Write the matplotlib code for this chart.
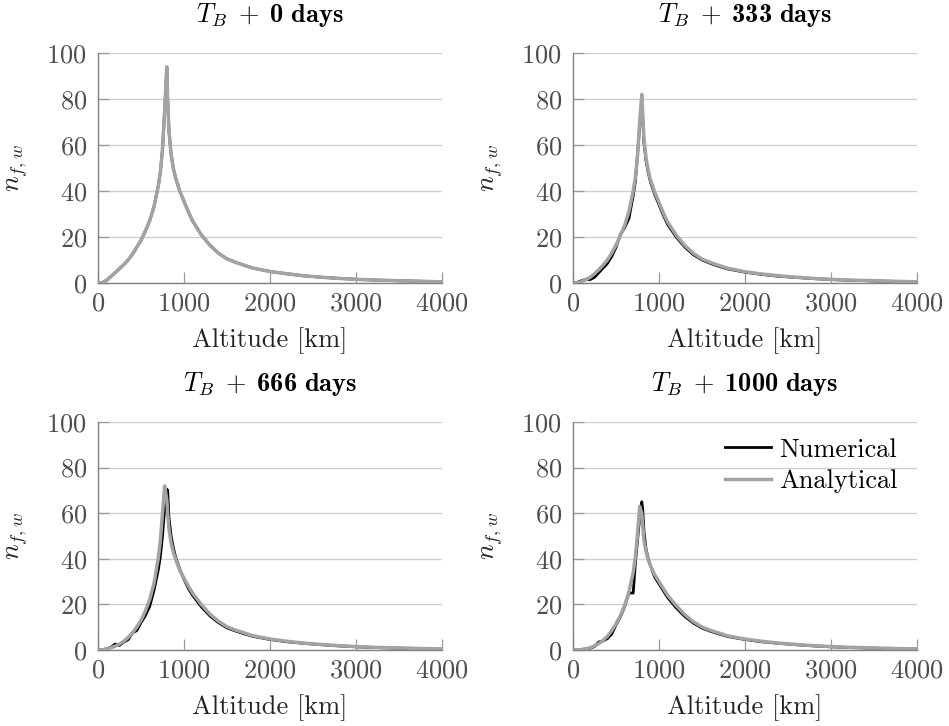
import matplotlib
matplotlib.use("Agg")
import matplotlib.pyplot as plt
import numpy as np

plt.rcParams['font.family'] = ['cmr10', 'DejaVu Serif']
plt.rcParams['mathtext.fontset'] = 'custom'
plt.rcParams['mathtext.rm'] = 'cmr10'
plt.rcParams['mathtext.it'] = 'cmmi10'
plt.rcParams['mathtext.bf'] = 'cmb10'
plt.rcParams['axes.formatter.use_mathtext'] = True
plt.rcParams['axes.unicode_minus'] = False

titles = [r"$T_B\;+\;\mathbf{0\ days}$", r"$T_B\;+\;\mathbf{333\ days}$",
          r"$T_B\;+\;\mathbf{666\ days}$", r"$T_B\;+\;\mathbf{1000\ days}$"]

alt = [0, 50, 100, 150, 200, 250, 300, 350, 400, 450, 500, 550, 600, 650, 700, 725, 750,
       775, 800, 810, 825, 850, 875, 900, 950, 1000, 1050, 1100, 1200, 1300, 1400, 1500,
       1600, 1700, 1800, 2000, 2200, 2400, 2600, 2800, 3000, 3200, 3400, 3600, 3800, 4000]

ana_0 = [0, 0.2, 1.2, 2.8, 4.5, 6.2, 8, 10, 12.5, 15.5, 18.5, 22.5, 27, 33, 42, 48, 58,
         75, 94, 80, 66, 56, 50, 46, 40, 35.5, 31, 27, 21, 16.5, 13, 10.5,
         9, 7.7, 6.5, 5, 4, 3.1, 2.5, 2, 1.6, 1.3, 1.1, 0.9, 0.7, 0.5]
num_0 = [0, 0.2, 1.2, 2.8, 4.5, 6.2, 8, 10, 12.5, 15.5, 18.5, 22.5, 27, 33, 42, 48, 58,
         75, 93.5, 80, 66, 56, 50, 46, 40, 35.5, 31, 27, 21, 16.5, 13, 10.5,
         9, 7.7, 6.5, 5, 4, 3.1, 2.5, 2, 1.6, 1.3, 1.1, 0.9, 0.7, 0.5]

ana_333 = [0, 0.1, 0.6, 1.5, 2.5, 4, 5.8, 7.8, 10, 13, 16.5, 20.5, 25, 31, 40, 46, 55,
           70, 82, 74, 63, 54, 49, 45, 39.5, 35, 30.5, 26.5, 20.8, 16.3, 12.9, 10.4,
           8.9, 7.6, 6.4, 4.9, 3.9, 3.1, 2.5, 2, 1.6, 1.3, 1.1, 0.9, 0.7, 0.5]
num_333 = [0, 0.3, 1.0, 1.6, 1.5, 2.5, 4.5, 6.5, 8.5, 11.5, 15.5, 21, 24, 28, 38, 44, 56,
           68, 78, 72, 61, 53, 48, 44, 38.5, 34, 29.5, 25.5, 20, 15.6, 12.3, 10,
           8.5, 7.2, 6.1, 4.7, 3.7, 2.9, 2.4, 1.9, 1.5, 1.2, 1.0, 0.8, 0.6, 0.4]

ana_666 = [0, 0.1, 0.4, 1.0, 1.7, 2.6, 3.8, 5.5, 7.5, 10, 13, 17, 22, 29, 40, 48, 60,
           72, 66, 60, 53, 47, 43, 40, 35, 31.5, 28, 25, 20, 15.8, 12.6, 10.2,
           8.7, 7.5, 6.3, 4.8, 3.8, 3.0, 2.4, 1.9, 1.5, 1.2, 1.0, 0.8, 0.6, 0.5]
num_666 = [0, 0.1, 0.5, 1.2, 2.6, 2.0, 3.5, 4.5, 7.5, 8.5, 12, 15, 19, 26, 35, 41, 50,
           62, 70.5, 70, 58, 50, 45, 41, 35.5, 31, 27, 24, 19, 15, 12, 9.7,
           8.3, 7.1, 6.0, 4.6, 3.6, 2.9, 2.3, 1.8, 1.4, 1.1, 0.9, 0.7, 0.5, 0.4]

ana_1000 = [0, 0.05, 0.2, 0.5, 1.0, 1.8, 2.8, 4.2, 6, 8.5, 11.5, 15, 19.5, 25.5, 34, 41, 51,
            63, 60, 55, 48, 43, 39.5, 37, 33, 30, 27, 24, 19.5, 15.5, 12.4, 10.1,
            8.6, 7.4, 6.2, 4.8, 3.8, 3.0, 2.4, 1.9, 1.5, 1.2, 1.0, 0.8, 0.6, 0.5]
num_1000 = [0, 0.05, 0.2, 0.5, 0.8, 1.5, 3.5, 4.0, 5.0, 7.0, 11, 14.5, 19, 25, 25, 38, 48,
            58, 65, 62, 52, 44, 40, 37, 32, 29, 26, 23, 18.5, 14.7, 11.8, 9.6,
            8.2, 7.0, 5.9, 4.6, 3.6, 2.9, 2.3, 1.8, 1.4, 1.1, 0.9, 0.7, 0.5, 0.4]

numerical = [num_0, num_333, num_666, num_1000]
analytical = [ana_0, ana_333, ana_666, ana_1000]

xticks = [0, 1000, 2000, 3000, 4000]
yticks = [0, 20, 40, 60, 80, 100]

W, H = 949, 726
fig = plt.figure(figsize=(W / 100, H / 100), dpi=100)

boxes = [(98, 442, 53, 283), (573, 917, 53, 283), (98, 442, 422, 650), (573, 917, 422, 650)]

FS = 19
tick_col = '#4d4d4d'
for i, (l, r, t, b) in enumerate(boxes):
    ax = fig.add_axes([l / W, 1 - b / H, (r - l) / W, (b - t) / H])
    ax.plot(alt, numerical[i], color='black', lw=2.0, label='Numerical', zorder=3)
    ax.plot(alt, analytical[i], color='#a3a3a3', lw=2.5, label='Analytical', zorder=4)
    ax.set_xlim(0, 4000)
    ax.set_ylim(0, 100)
    ax.set_xticks(xticks)
    ax.set_yticks(yticks)
    ax.grid(axis='y', color='#cfcfcf', lw=1.0)
    ax.set_axisbelow(True)
    for s in ['top', 'right']:
        ax.spines[s].set_visible(False)
    for s in ['left', 'bottom']:
        ax.spines[s].set_color('#808080')
        ax.spines[s].set_linewidth(1.0)
    ax.tick_params(direction='in', length=8, width=0.9, color='#9a9a9a',
                   labelcolor=tick_col, labelsize=FS)
    ax.tick_params(axis='x', pad=6)
    ax.tick_params(axis='y', pad=8)
    ax.set_title(titles[i], fontsize=FS, pad=22)
    ax.set_xlabel('Altitude [km]', fontsize=FS, color='#222222', labelpad=9)
    ax.set_ylabel(r'$n_{f,w}$', fontsize=FS, color='#222222', labelpad=12)
    if i == 3:
        ax.legend(loc='upper right', frameon=False, fontsize=FS, handlelength=1.75,
                  handletextpad=0.3, labelspacing=0.3, borderaxespad=0.2,
                  bbox_to_anchor=(0.99, 1.0))

fig.savefig('out.png', dpi=100)
